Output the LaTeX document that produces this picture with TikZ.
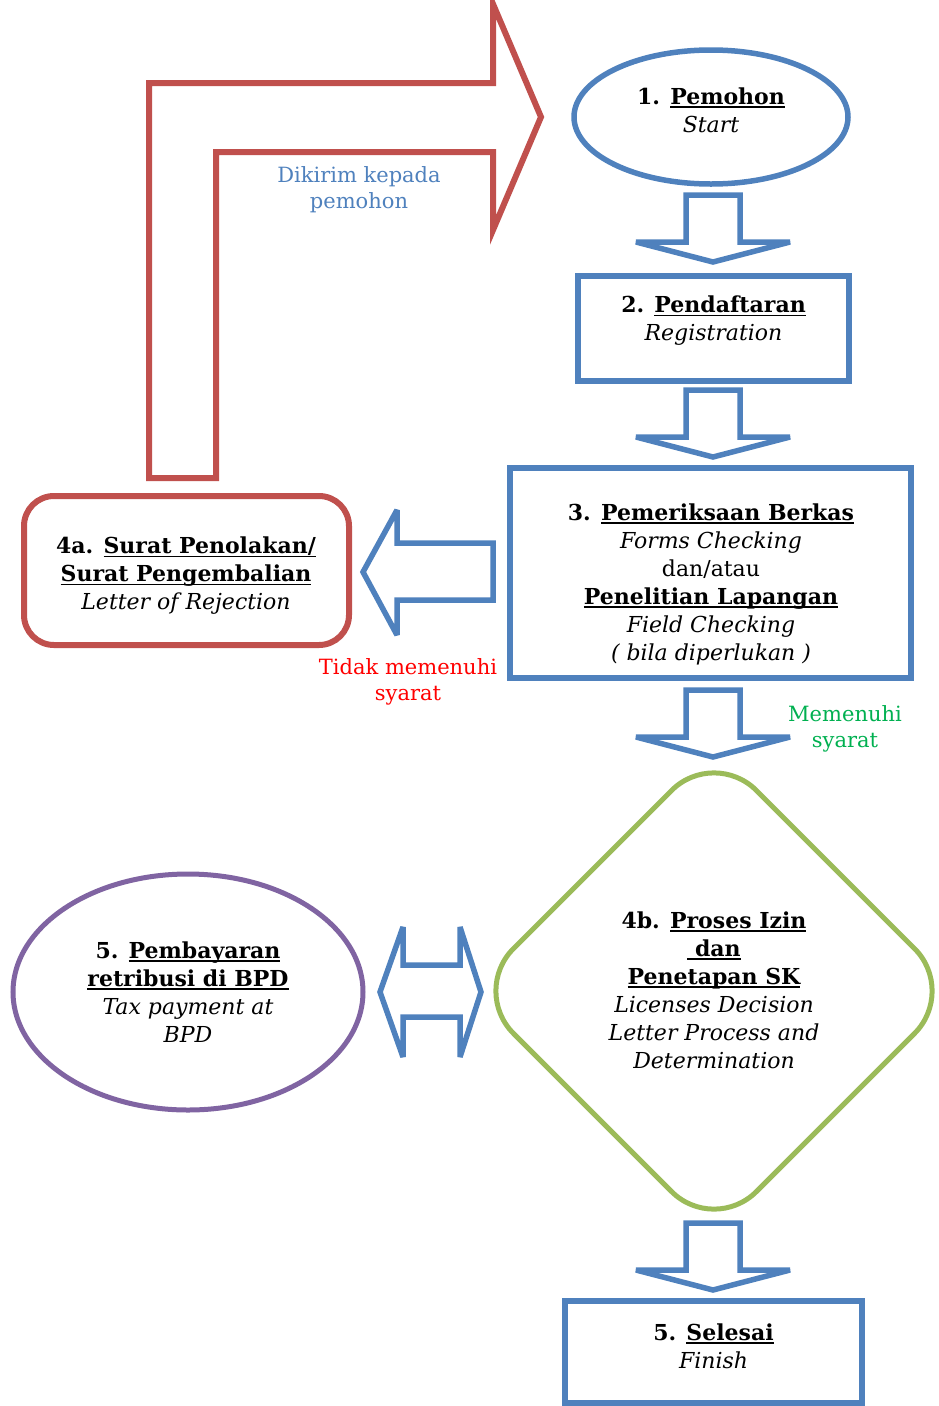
\documentclass[tikz,border=0pt]{standalone}
\usepackage{fontspec}
\setmainfont{DejaVu Serif}
\usetikzlibrary{shapes.geometric}

\definecolor{flowblue}{HTML}{4F81BD}
\definecolor{flowred}{HTML}{C0504D}
\definecolor{flowgreen}{HTML}{9BBB59}
\definecolor{flowpurple}{HTML}{8064A2}
\definecolor{okgreen}{HTML}{00B050}
\definecolor{failred}{HTML}{FF0000}

% underline at a fixed depth, like a word processor does
\newcommand\ulx[1]{\leavevmode\setbox0=\hbox{#1}\rlap{\rule[-3.5pt]{\wd0}{1.8pt}}\box0}

\begin{document}
\begin{tikzpicture}[x=1pt,y=-1pt,
  txt/.style={font=\fontsize{22}{28}\selectfont, align=center, inner sep=0pt},
  note/.style={font=\fontsize{21}{26}\selectfont, align=center, inner sep=0pt},
  bluebox/.style={rectangle, draw=flowblue, line width=6pt, inner sep=0pt},
  blockarrow/.style={draw=flowblue, line width=5.5pt, line join=miter, miter limit=2, fill=white},
  downarrow/.pic={\draw[blockarrow] (-27,0) -- (27,0) -- (27,47) -- (77,47)
      -- (0,67) -- (-77,47) -- (-27,47) -- cycle;}
]
\useasboundingbox (0,0) rectangle (938,1406);

% return path to the applicant
\draw[draw=flowred, line width=6pt, line join=miter]
  (149,478) -- (149,83) -- (493,83) -- (493,4) -- (541,117) -- (493,230)
  -- (493,152) -- (216,152) -- (216,478) -- cycle;
\node[note, text=flowblue] (kirim) at (359,190) {Dikirim kepada\\pemohon};

% 1. applicant
\node[ellipse, draw=flowblue, line width=5.5pt, minimum width=274pt,
      minimum height=134pt, inner sep=0pt] (pemohon) at (711,117) {};
\node[txt] (pemohon-t) at (711,110) {\textbf{1. \ulx{Pemohon}}\\\textit{Start}};

\pic at (713,195) {downarrow};

% 2. registration
\node[bluebox, minimum width=271pt, minimum height=105pt] (daftar) at (713.5,328.5) {};
\node[txt] (daftar-t) at (713.5,321) {\textbf{2. \ulx{Pendaftaran}}\\\textit{Registration}};

\pic at (713,390) {downarrow};

% 3. checking
\node[bluebox, minimum width=401pt, minimum height=210pt] (periksa) at (710.5,573) {};
\node[txt] (periksa-t) at (711,584) {\textbf{3. \ulx{Pemeriksaan Berkas}}\\
  \textit{Forms Checking}\\dan/atau\\\textbf{\ulx{Penelitian Lapangan}}\\
  \textit{Field Checking}\\\textit{( bila diperlukan )}};

% 4a. rejection
\node[rectangle, rounded corners=30pt, draw=flowred, line width=6pt,
      minimum width=325pt, minimum height=149pt, inner sep=0pt] (tolak) at (186.5,570.5) {};
\node[txt] (tolak-t) at (186,576) {\textbf{4a. \ulx{Surat Penolakan/}}\\
  \textbf{\ulx{Surat Pengembalian}}\\\textit{Letter of Rejection}};

\draw[blockarrow] (363,572) -- (397,510) -- (397,543) -- (493,543)
  -- (493,600) -- (397,600) -- (397,635) -- cycle;
\node[note, text=failred] (tidak) at (408,682) {Tidak memenuhi\\syarat};

\pic at (713,690) {downarrow};
\node[note, text=okgreen] (memenuhi) at (845,729) {Memenuhi\\syarat};

% 4b. licence process
\node[diamond, aspect=1, rounded corners=60pt, draw=flowgreen, line width=5pt,
      minimum width=488pt, minimum height=488pt, inner sep=0pt] (proses) at (714,991) {};
\node[txt] (proses-t) at (714,990) {\textbf{4b. \ulx{Proses Izin}}\\\textbf{\ulx{\ dan}}\\
  \textbf{\ulx{Penetapan SK}}\\\textit{Licenses Decision}\\
  \textit{Letter Process and}\\\textit{Determination}};

% 5. payment
\node[ellipse, draw=flowpurple, line width=5pt, minimum width=350pt,
      minimum height=236pt, inner sep=0pt] (bayar) at (188,992) {};
\node[txt] (bayar-t) at (188,992) {\textbf{5. \ulx{Pembayaran}}\\
  \textbf{\ulx{retribusi di BPD}}\\\textit{Tax payment at}\\\textit{BPD}};

\draw[blockarrow] (380,992) -- (403,927) -- (403,965) -- (460,965) -- (460,927)
  -- (481,992) -- (460,1057) -- (460,1017) -- (403,1017) -- (403,1057) -- cycle;

\pic at (713,1223) {downarrow};

% 5. finish
\node[bluebox, minimum width=297pt, minimum height=102pt] (selesai) at (713.5,1352) {};
\node[txt] (selesai-t) at (713.5,1346) {\textbf{5. \ulx{Selesai}}\\\textit{Finish}};
\end{tikzpicture}
\end{document}
